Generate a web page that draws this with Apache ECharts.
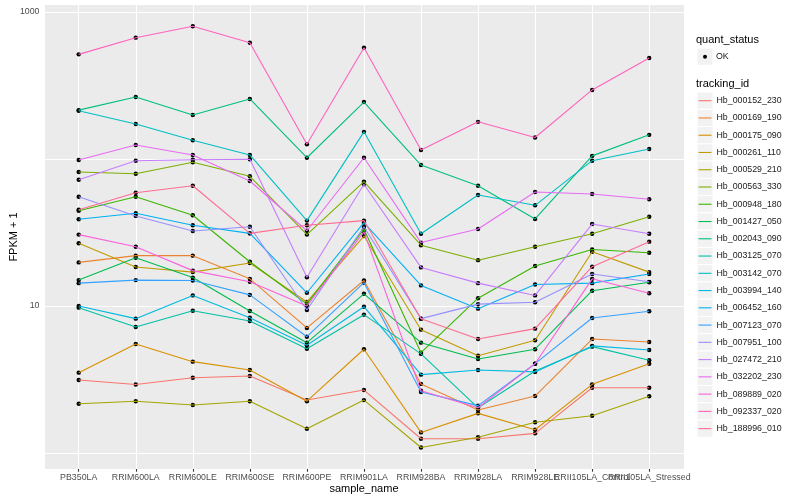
<!DOCTYPE html>
<html><head><meta charset="utf-8">
<script src="https://cdn.jsdelivr.net/npm/echarts/dist/echarts.min.js"></script>
<style>html,body{margin:0;padding:0;background:#fff}#c{width:800px;height:500px}</style>
</head><body><div id="c"></div><script>
const categories = ['PB350LA','RRIM600LA','RRIM600LE','RRIM600SE','RRIM600PE','RRIM901LA','RRIM928BA','RRIM928LA','RRIM928LE','RRII105LA_Control','RRII105LA_Stressed'];
const trackingIds = ['Hb_000152_230','Hb_000169_190','Hb_000175_090','Hb_000261_110','Hb_000529_210','Hb_000563_330','Hb_000948_180','Hb_001427_050','Hb_002043_090','Hb_003125_070','Hb_003142_070','Hb_003994_140','Hb_006452_160','Hb_007123_070','Hb_007951_100','Hb_027472_210','Hb_032202_230','Hb_089889_020','Hb_092337_020','Hb_188996_010'];
const palette = ['#F8766D','#EA8331','#D89000','#C09B00','#A3A500','#7CAE00','#39B600','#00BB4E','#00BF7D','#00C1A3','#00BFC4','#00BAE0','#00B0F6','#35A2FF','#9590FF','#C77CFF','#E76BF3','#FA62DB','#FF62BC','#FF6C91'];

// FPKM + 1 values per gene, one per sample
const hb_000152_230 = [3.14, 2.92, 3.25, 3.34, 2.29, 2.68, 1.25, 1.25, 1.36, 2.78, 2.78];
const hb_000169_190 = [19.8, 22.0, 22.0, 15.3, 7.09, 14.9, 2.95, 1.96, 2.44, 5.96, 5.69];
const hb_000175_090 = [3.52, 5.51, 4.18, 3.67, 2.25, 5.08, 1.38, 1.86, 1.44, 2.93, 4.05];
const hb_000261_110 = [26.7, 18.4, 17.0, 19.6, 10.65, 29.9, 6.90, 4.59, 5.84, 23.4, 17.0];
const hb_000529_210 = [2.16, 2.25, 2.12, 2.25, 1.46, 2.29, 1.09, 1.28, 1.62, 1.79, 2.43];
const hb_000563_330 = [81.6, 79.4, 95.0, 76.3, 30.6, 70.1, 25.9, 20.5, 25.3, 31.0, 40.5];
const hb_000948_180 = [44.5, 55.4, 41.4, 20.0, 10.3, 33.3, 4.81, 11.3, 18.7, 24.2, 23.0];
const hb_001427_050 = [15.0, 21.3, 15.6, 9.25, 5.63, 12.1, 5.63, 4.36, 5.08, 12.7, 14.5];
const hb_002043_090 = [215, 264, 199, 256, 102, 244, 91.0, 65.8, 39.1, 105, 146];
const hb_003125_070 = [9.74, 7.20, 9.29, 7.91, 5.12, 8.73, 4.72, 2.03, 3.61, 5.29, 4.27];
const hb_003142_070 = [213, 173, 134, 106.5, 38.1, 153, 31.0, 56.9, 48.4, 97.4, 117];
const hb_003994_140 = [10.0, 8.20, 11.8, 8.32, 5.40, 9.89, 3.41, 3.67, 3.56, 5.35, 5.02];
const hb_006452_160 = [38.9, 42.7, 35.4, 31.2, 12.3, 36.9, 13.8, 9.59, 14.0, 14.3, 16.5];
const hb_007123_070 = [14.3, 15.0, 14.9, 11.9, 6.18, 14.4, 2.60, 2.10, 4.05, 8.29, 9.20];
const hb_007951_100 = [55.4, 41.0, 32.4, 34.6, 9.39, 34.6, 8.20, 10.3, 10.6, 16.5, 14.6];
const hb_027472_210 = [72.3, 97.4, 98.9, 99.5, 15.7, 67.3, 18.3, 14.3, 11.8, 36.1, 31.0];
const hb_032202_230 = [98.4, 124.5, 106.5, 70.8, 32.5, 102, 27.0, 33.4, 59.6, 57.8, 53.2];
const hb_089889_020 = [30.6, 25.3, 17.4, 14.6, 10.0, 31.9, 2.65, 2.03, 4.05, 15.3, 12.2];
const hb_092337_020 = [515, 669, 800, 618, 126, 572, 115, 179, 140, 295, 487];
const hb_188996_010 = [45.2, 59.0, 65.8, 31.2, 35.4, 38.1, 8.20, 5.96, 7.01, 18.5, 27.4];

const yTickLabels = [10, 1000];

const seriesValues = [hb_000152_230, hb_000169_190, hb_000175_090, hb_000261_110, hb_000529_210, hb_000563_330, hb_000948_180, hb_001427_050, hb_002043_090, hb_003125_070, hb_003142_070, hb_003994_140, hb_006452_160, hb_007123_070, hb_007951_100, hb_027472_210, hb_032202_230, hb_089889_020, hb_092337_020, hb_188996_010];

const FONT = 'Liberation Sans, Arial, Helvetica, sans-serif';
const Y_MIN = 0.778, Y_MAX = 1116;

const series = trackingIds.map((id, k) => ({
  name: id, type: 'line', xAxisIndex: 1, yAxisIndex: 1,
  data: seriesValues[k], symbol: 'none', color: palette[k],
  lineStyle: { width: 1.1, color: palette[k] }, silent: true
}));
const points = [];
seriesValues.forEach(vals => vals.forEach((v, i) => points.push([i, v])));
series.push({ name: 'OK', type: 'scatter', xAxisIndex: 1, yAxisIndex: 1, data: points,
  symbolSize: 4.4, itemStyle: { color: '#000', opacity: 1 }, silent: true });

const graphic = [
  { type: 'text', x: 696, y: 40, z: 1, style: { text: 'quant_status', fontSize: 11, fontFamily: FONT, fill: '#000', verticalAlign: 'middle', align: 'left' } },
  { type: 'text', x: 696, y: 84.3, z: 1, style: { text: 'tracking_id', fontSize: 11, fontFamily: FONT, fill: '#000', verticalAlign: 'middle', align: 'left' } },
  { type: 'rect', z: 1, shape: { x: 697, y: 56.7 - 8.63, width: 16, height: 17.26 }, style: { fill: '#F2F2F2', stroke: '#fff', lineWidth: 1 } }
];
trackingIds.forEach((id, i) => {
  graphic.push({ type: 'rect', z: 1, shape: { x: 697, y: 100.7 + i * 17.26 - 8.63, width: 16, height: 17.26 }, style: { fill: '#F2F2F2', stroke: '#fff', lineWidth: 1 } });
});

const chart = echarts.init(document.getElementById('c'));
chart.setOption({
  animation: false,
  backgroundColor: '#fff',
  textStyle: { fontFamily: FONT },
  grid: [
    { left: 45, right: 116, top: 5, bottom: 31, show: true, backgroundColor: '#EBEBEB', borderWidth: 0, containLabel: false, outerBoundsMode: 'none' },
    { left: 78.7, right: 150.8, top: 5, bottom: 31, containLabel: false, outerBoundsMode: 'none' }
  ],
  xAxis: [
    { gridIndex: 0, type: 'value', min: 0, max: 1, show: false },
    { gridIndex: 1, type: 'category', data: categories, boundaryGap: false,
      axisLine: { show: false },
      axisTick: { show: true, interval: 0, length: 2.7, lineStyle: { color: '#333', width: 1.1 } },
      axisLabel: { interval: 0, fontSize: 8.8, color: '#4D4D4D', margin: 4, fontFamily: FONT },
      splitLine: { show: true, interval: 0, lineStyle: { color: '#fff', width: 1.1 } },
      name: 'sample_name', nameLocation: 'middle', nameGap: 14.5, nameMoveOverlap: false,
      nameTextStyle: { fontSize: 11, color: '#000', fontFamily: FONT } }
  ],
  yAxis: [
    { gridIndex: 0, type: 'log', logBase: 10, min: Y_MIN, max: Y_MAX,
      axisLine: { show: false }, axisTick: { show: false },
      axisLabel: { fontSize: 8.8, color: '#4D4D4D', margin: 5.5, fontFamily: FONT,
        formatter: v => { for (const t of yTickLabels) { if (Math.abs(Math.log10(v) - Math.log10(t)) < 1e-6) return String(t); } return ''; } },
      splitLine: { show: true, showMinLine: false, showMaxLine: false, lineStyle: { color: '#fff', width: 1.1 } },
      name: 'FPKM + 1', nameLocation: 'middle', nameGap: 26, nameMoveOverlap: false,
      nameTextStyle: { fontSize: 11, color: '#000', fontFamily: FONT } },
    { gridIndex: 1, type: 'log', logBase: 10, min: Y_MIN, max: Y_MAX, show: false, splitLine: { show: false } }
  ],
  legend: [
    { data: ['OK'], orient: 'vertical', left: 703, top: 50.7, padding: 0, icon: 'circle',
      itemWidth: 4, itemHeight: 4, selectedMode: false,
      textStyle: { fontSize: 8.8, color: '#1A1A1A', fontFamily: FONT, lineHeight: 12, padding: [0, 0, 0, 4] } },
    { data: trackingIds, orient: 'vertical', left: 698.5, top: 93.7, padding: 0, icon: 'rect',
      itemWidth: 13, itemHeight: 1.1, itemGap: 3.26, selectedMode: false, itemStyle: { borderWidth: 0 },
      textStyle: { fontSize: 8.8, color: '#1A1A1A', fontFamily: FONT, lineHeight: 14 } }
  ],
  graphic: graphic,
  series: series
});
</script></body></html>
